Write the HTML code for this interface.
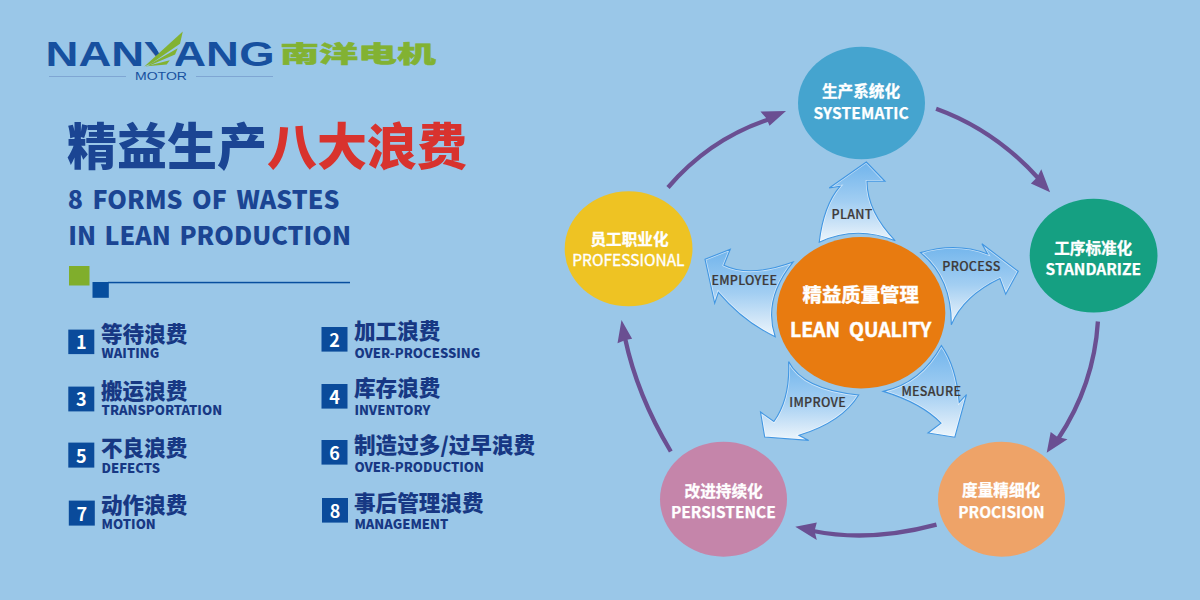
<!DOCTYPE html>
<html lang="zh">
<head>
<meta charset="utf-8">
<title>精益生产八大浪费</title>
<style>
html,body{margin:0;padding:0;}
body{width:1200px;height:600px;overflow:hidden;background:#9ac7e8;}
svg{display:block;}
text{font-family:"Noto Sans CJK SC","Liberation Sans",sans-serif;}
.lib{font-family:"Liberation Sans",sans-serif;}
.navy{fill:#1b4594;}
.zh{font-size:21.6px;font-weight:900;fill:#173884;}
.en{font-size:13px;font-weight:900;fill:#173884;}
.num{font-size:18px;font-weight:700;fill:#ffffff;text-anchor:middle;}
.czh{font-size:15.6px;font-weight:700;fill:#ffffff;text-anchor:middle;stroke:#fff;stroke-width:0.3px;}
.cen{font-size:15.5px;font-weight:700;fill:#ffffff;text-anchor:middle;stroke:#fff;stroke-width:0.25px;}
.lab{font-size:12.5px;font-weight:500;fill:#3e3a39;letter-spacing:0.28px;stroke:#3e3a39;stroke-width:0.2px;}
.pa{fill:none;stroke:#6a4f92;stroke-width:4.3;}
.ph{fill:#6a4f92;}
.sw{stroke:#4196e2;stroke-width:1.1;stroke-linejoin:miter;}
</style>
</head>
<body>
<svg width="1200" height="600" viewBox="0 0 1200 600">
<defs>
<linearGradient id="g1" x1="0" y1="0" x2="0" y2="1">
<stop offset="0" stop-color="#70b4ec"/>
<stop offset="0.5" stop-color="#a2cef2"/>
<stop offset="0.82" stop-color="#d3e7f8"/>
<stop offset="1" stop-color="#edf6fc"/>
</linearGradient>
</defs>

<!-- LOGO -->
<g id="logo">
<g transform="translate(0,66) scale(1.3,1)"><text class="lib" x="35.09 60.36 85.67 110.54 133.36 158.55 184.08" y="0" font-size="35" font-weight="700" fill="#17509f">NANYANG</text></g>
<path id="ycover" d="M151.8,39 L159.2,53.8 L155,57 L155,68 L175.5,68 L175.5,39 Z" fill="#9ac7e8"/>
<g id="wing" fill="#82b232">
<path d="M144.3,66.6 L182.8,31.4 L180,43.7 L152,63 Z"/>
<path d="M148.5,65 L177.7,48.3 L175.1,54.6 L149.5,65.6 Z"/>
<path d="M146,66.2 L169.8,60.3 L166.7,64.4 L144.3,66.6 Z"/>
</g>
<text class="lib" x="135" y="80" font-size="10.5" fill="#17509f" textLength="52" lengthAdjust="spacingAndGlyphs">MOTOR</text>
<rect x="49" y="76" width="77" height="1" fill="#7fa6d3"/>
<rect x="196" y="76" width="77" height="1" fill="#7fa6d3"/>
<text x="280.3" y="62.4" font-size="23" font-weight="900" fill="#82b232" stroke="#82b232" stroke-width="0.5" textLength="155.5" lengthAdjust="spacingAndGlyphs">南洋电机</text>
</g>

<!-- TITLE -->
<text x="67" y="165" font-size="50" font-weight="900"><tspan fill="#1b4593">精益生产</tspan><tspan fill="#d8332e">八大浪费</tspan></text>
<text x="67.8" y="209.3" font-size="25" font-weight="900" fill="#1b4593" style="word-spacing:3.8px">8 FORMS OF WASTES</text>
<text x="68.2" y="244.6" font-size="25" font-weight="900" fill="#1b4593" style="word-spacing:2.8px">IN LEAN PRODUCTION</text>
<rect x="69" y="266" width="20.5" height="19.5" fill="#80ae2c"/>
<rect x="92.5" y="282" width="16.3" height="15.8" fill="#074e9e"/>
<rect x="108" y="281.8" width="242" height="1.5" fill="#074e9e"/>

<!-- LIST -->
<g id="list">
<rect x="68.3" y="329.6" width="26" height="24.5" fill="#0a4b9b"/>
<text class="num" x="81.3" y="349.3">1</text>
<text class="zh" x="101" y="341.6">等待浪费</text>
<text class="en" x="101.6" y="358.4">WAITING</text>

<rect x="68.3" y="386.6" width="26" height="24.8" fill="#0a4b9b"/>
<text class="num" x="81.3" y="406.4">3</text>
<text class="zh" x="101" y="398.6">搬运浪费</text>
<text class="en" x="101.6" y="415.4">TRANSPORTATION</text>

<rect x="68.3" y="442.6" width="26" height="25" fill="#0a4b9b"/>
<text class="num" x="81.3" y="462.5">5</text>
<text class="zh" x="101" y="455.6">不良浪费</text>
<text class="en" x="101.6" y="472.6">DEFECTS</text>

<rect x="68.8" y="500.6" width="26" height="25" fill="#0a4b9b"/>
<text class="num" x="81.8" y="520.5">7</text>
<text class="zh" x="101" y="512.6">动作浪费</text>
<text class="en" x="101.6" y="529.4">MOTION</text>

<rect x="321.5" y="327" width="26" height="24.6" fill="#0a4b9b"/>
<text class="num" x="334.5" y="346.9">2</text>
<text class="zh" x="354" y="339.1">加工浪费</text>
<text class="en" x="354.4" y="358">OVER-PROCESSING</text>

<rect x="321.5" y="384" width="26" height="24.6" fill="#0a4b9b"/>
<text class="num" x="334.5" y="403.9">4</text>
<text class="zh" x="354" y="396.1">库存浪费</text>
<text class="en" x="354.4" y="415">INVENTORY</text>

<rect x="321.5" y="440" width="26" height="24.6" fill="#0a4b9b"/>
<text class="num" x="334.5" y="459.9">6</text>
<text class="zh" x="354" y="453.1">制造过多/过早浪费</text>
<text class="en" x="354.4" y="472">OVER-PRODUCTION</text>

<rect x="322" y="498" width="26" height="24.6" fill="#0a4b9b"/>
<text class="num" x="335" y="517.9">8</text>
<text class="zh" x="354" y="510.6">事后管理浪费</text>
<text class="en" x="354.4" y="529">MANAGEMENT</text>
</g>

<!-- SWOOSH ARROWS -->
<defs>
<path id="sw0" d="M866.3,162 L885,181.3 L867,181.3 Q867.3,212 895.3,240.8 Q856.2,225.1 819.2,242.2 Q823.6,205.1 840,186.3 L829.2,188 Z"/>
<clipPath id="cp0"><use href="#sw0"/></clipPath>
<path id="sw1" d="M1018.2,271.3 L981.9,243.8 L987.6,253.9 Q956,241.8 920.5,252.6 Q951.7,277.9 951.3,324.8 Q963.6,295.9 999.9,278.6 L1005.7,294.2 Z"/>
<clipPath id="cp1"><use href="#sw1"/></clipPath>
<path id="sw2" d="M941.4,345.6 Q956.3,366.6 959.2,402.4 L966.5,394.5 L954.8,437.2 L928,433 L941,423.1 Q921.3,403 883.3,391.4 Q921.1,383.1 941.4,345.6 Z"/>
<clipPath id="cp2"><use href="#sw2"/></clipPath>
<path id="sw3" d="M788.6,361.6 Q802.9,389.7 858.7,395 Q841.7,422.4 799,435.3 L808.7,440.4 L764.7,437.1 L760.5,412 L773.9,421.5 Q790.3,398.4 788.6,361.6 Z"/>
<clipPath id="cp3"><use href="#sw3"/></clipPath>
<path id="sw4" d="M705,259.3 L730.3,249.2 L723.9,265.2 Q749.8,277.8 793,262.1 Q762.7,299.8 775.2,336.7 Q743.2,321.5 718.4,292.3 L714.7,303.3 Z"/>
<clipPath id="cp4"><use href="#sw4"/></clipPath>
</defs>
<g id="swoosh">
<use href="#sw0" fill="url(#g1)"/>
<use href="#sw0" fill="none" stroke="#ffffff" stroke-opacity="0.55" stroke-width="2.7" clip-path="url(#cp0)"/>
<use href="#sw0" fill="none" class="sw"/>
<use href="#sw1" fill="url(#g1)"/>
<use href="#sw1" fill="none" stroke="#ffffff" stroke-opacity="0.55" stroke-width="2.7" clip-path="url(#cp1)"/>
<use href="#sw1" fill="none" class="sw"/>
<use href="#sw2" fill="url(#g1)"/>
<use href="#sw2" fill="none" stroke="#ffffff" stroke-opacity="0.55" stroke-width="2.7" clip-path="url(#cp2)"/>
<use href="#sw2" fill="none" class="sw"/>
<use href="#sw3" fill="url(#g1)"/>
<use href="#sw3" fill="none" stroke="#ffffff" stroke-opacity="0.55" stroke-width="2.7" clip-path="url(#cp3)"/>
<use href="#sw3" fill="none" class="sw"/>
<use href="#sw4" fill="url(#g1)"/>
<use href="#sw4" fill="none" stroke="#ffffff" stroke-opacity="0.55" stroke-width="2.7" clip-path="url(#cp4)"/>
<use href="#sw4" fill="none" class="sw"/>
</g>

<!-- CIRCLES -->
<ellipse cx="861" cy="312.7" rx="84.3" ry="75.7" fill="#e87b10"/>
<ellipse cx="861.5" cy="103" rx="63.5" ry="56.2" fill="#45a4cf"/>
<ellipse cx="1093.6" cy="255.6" rx="63.9" ry="56.9" fill="#15a082"/>
<ellipse cx="1001.5" cy="499.2" rx="63.5" ry="57.5" fill="#eea368"/>
<ellipse cx="723.5" cy="499.2" rx="63.5" ry="57.5" fill="#c585aa"/>
<ellipse cx="628.6" cy="248.8" rx="63.9" ry="57.5" fill="#eec323"/>

<!-- CIRCLE TEXT -->
<text x="860.7" y="301.6" font-size="19.4" font-weight="700" fill="#fff" stroke="#fff" stroke-width="0.4" text-anchor="middle">精益质量管理</text>
<text x="860.6" y="337" font-size="19.4" font-weight="700" fill="#fff" stroke="#fff" stroke-width="0.45" text-anchor="middle" style="word-spacing:4.6px">LEAN QUALITY</text>

<text class="czh" x="861" y="97">生产系统化</text>
<text class="cen" x="861.2" y="118.8" style="letter-spacing:0.2px">SYSTEMATIC</text>

<text class="czh" x="1093.2" y="253.9">工序标准化</text>
<text class="cen" x="1093.3" y="275.3">STANDARIZE</text>

<text class="czh" x="1001.1" y="495.5">度量精细化</text>
<text class="cen" x="1001.5" y="518">PROCISION</text>

<text class="czh" x="723.6" y="496.5">改进持续化</text>
<text class="cen" x="723.4" y="518.3">PERSISTENCE</text>

<text class="czh" x="629.5" y="245">员工职业化</text>
<text class="cen" x="628.4" y="265.8" style="font-weight:400;stroke-width:0.35px">PROFESSIONAL</text>

<!-- LABELS -->
<text class="lab" x="831.5" y="219.4">PLANT</text>
<text class="lab" x="942.3" y="271">PROCESS</text>
<text class="lab" x="901.4" y="396">MESAURE</text>
<text class="lab" x="789.3" y="406.7">IMPROVE</text>
<text class="lab" x="711.4" y="284.8">EMPLOYEE</text>

<!-- PURPLE ARROWS -->
<g id="parrows">
<path class="pa" d="M668,187.5 Q710,138.5 770,119"/>
<path class="ph" d="M786,111.1 L760.5,111.6 L766.5,118.5 L769.5,125.7 Z"/>
<path class="pa" d="M936.1,108.7 Q995,130 1039,179"/>
<path class="ph" d="M1050.1,192.3 L1041.3,169.2 L1037,177.5 L1030.9,183.5 Z"/>
<path class="pa" d="M1097.9,321.5 Q1094,385 1058,439"/>
<path class="ph" d="M1046.7,452.7 L1050.7,432.1 L1057.5,437 L1067.5,439.3 Z"/>
<path class="pa" d="M936.5,524.7 Q870,542.5 813,531"/>
<path class="ph" d="M795.3,526.8 L816.8,522.6 L814.5,531 L816.8,539.9 Z"/>
<path class="pa" d="M670.8,451.5 Q637,395 625,338"/>
<path class="ph" d="M621.5,320 L617.5,343.2 L625.5,340 L632.1,338.7 Z"/>
</g>
</svg>
</body>
</html>
